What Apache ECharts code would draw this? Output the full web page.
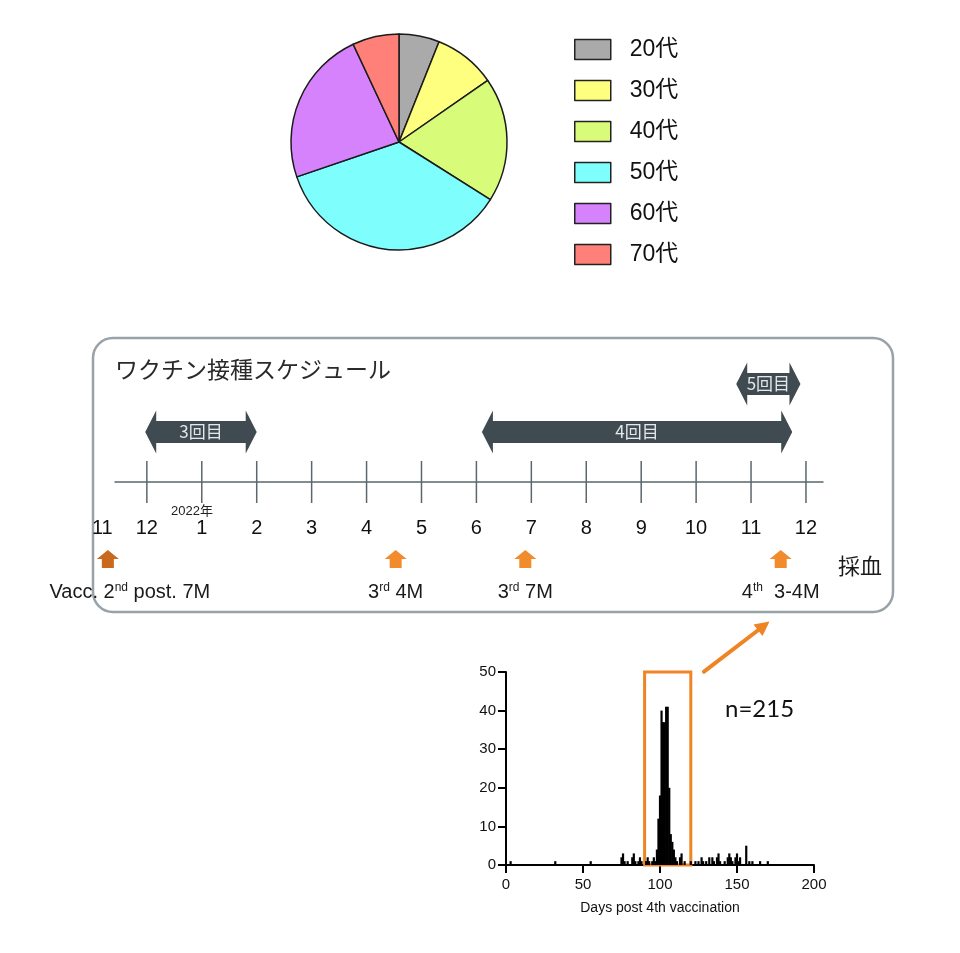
<!DOCTYPE html>
<html>
<head>
<meta charset="utf-8">
<title>ワクチン接種スケジュール</title>
<script src="https://cdn.jsdelivr.net/npm/echarts@6/dist/echarts.min.js"></script>
<style>
  html, body { margin: 0; padding: 0; background: #fff; }
  #main { width: 960px; height: 953px; }
</style>
</head>
<body>
<div id="main"></div>
<script>
// 年代別の人数
var ageGroups = ['20代', '30代', '40代', '50代', '60代', '70代'];
var ageCounts = [13, 20, 40, 77, 50, 15];
var ageColors = ['#aaaaaa', '#ffff7f', '#d8fb79', '#7ffefe', '#d682fd', '#fe8079'];

// タイムライン: 0 = 2021年11月, 13 = 2022年12月
var monthLabels = ['11', '12', '1', '2', '3', '4', '5', '6', '7', '8', '9', '10', '11', '12'];
var monthPos = [0.19, 1, 2, 3, 4, 5, 6, 7, 8, 9, 10, 11, 12, 13];
var doseNames = ['3回目', '4回目', '5回目'];
var doseStart = [0.97, 7.1, 11.73];
var doseEnd = [3.0, 12.75, 12.9];
var doseRow = [0, 0, 1];
var drawPos = [0.29, 5.53, 7.89, 12.54];
var drawLabels = ['Vacc. 2{s|nd} post. 7M', '3{s|rd} 4M', '3{s|rd} 7M', '4{s|th}  3-4M'];

// 4回目接種後の採血日 (日数ごとの人数)
var histDays = [3, 32, 55, 75, 76, 77, 79, 82, 83, 84, 86, 87, 88, 91, 92, 93, 95, 96, 97, 98, 99, 100,
  101, 102, 103, 104, 105, 106, 107, 108, 109, 110, 111, 113, 114, 116, 120, 123, 125, 127, 128, 130,
  132, 134, 135, 137, 138, 139, 142, 144, 145, 146, 147, 149, 150, 151, 152, 156, 158, 160, 165, 170];
var histCounts = [1, 1, 1, 2, 3, 1, 1, 2, 3, 1, 1, 2, 1, 1, 2, 1, 1, 2, 1, 4, 12, 18,
  40, 37, 37, 41, 41, 20, 8, 6, 4, 2, 1, 2, 3, 1, 1, 1, 1, 2, 1, 1,
  2, 2, 1, 2, 3, 1, 1, 2, 3, 2, 1, 2, 3, 1, 2, 5, 1, 1, 1, 1];

var LATIN = '"Liberation Sans", Arial, "Noto Sans CJK JP", sans-serif';
var CJK = '"Noto Sans CJK JP", sans-serif';
var ORANGE = '#ef8424';
var SLATE = '#3f4a51';

var chart = echarts.init(document.getElementById('main'));

// 矢印の段 (軸線からの高さ px)
var rowOffset = [50, 98];

function renderMonths(params, api) {
  var i = params.dataIndex;
  var p = api.coord([api.value(0), 0]);
  var children = [{
    type: 'text', x: p[0], y: p[1] + 46,
    style: { text: monthLabels[i], font: '20px ' + LATIN, fill: '#111', align: 'center', verticalAlign: 'middle' }
  }];
  if (i > 0) {
    children.push({
      type: 'line',
      shape: { x1: p[0], y1: p[1] - 21, x2: p[0], y2: p[1] + 21 },
      style: { stroke: '#5b676d', lineWidth: 1.5 }
    });
  }
  return { type: 'group', children: children };
}

function renderDoses(params, api) {
  var i = params.dataIndex;
  var a = api.coord([api.value(0), 0]);
  var b = api.coord([api.value(1), 0]);
  var x0 = a[0], x1 = b[0], yc = a[1] - rowOffset[doseRow[i]];
  var H = 21.5, B = 11, h = 11;
  return {
    type: 'group',
    children: [{
      type: 'polygon',
      shape: { points: [[x0, yc], [x0 + h, yc - H], [x0 + h, yc - B], [x1 - h, yc - B], [x1 - h, yc - H],
        [x1, yc], [x1 - h, yc + H], [x1 - h, yc + B], [x0 + h, yc + B], [x0 + h, yc + H]] },
      style: { fill: SLATE }
    }, {
      type: 'text', x: (x0 + x1) / 2, y: yc,
      style: { text: doseNames[i], font: '17px ' + CJK, fill: '#e4e8ea', align: 'center', verticalAlign: 'middle' }
    }]
  };
}

var drawColors = ['#c9691e', '#f28b2c', '#f28b2c', '#f28b2c'];
var drawLabelDx = [22, 0, 0, 0];

function renderDraws(params, api) {
  var i = params.dataIndex;
  var p = api.coord([api.value(0), 0]);
  var x = p[0], y0 = p[1] + 68;
  return {
    type: 'group',
    children: [{
      type: 'polygon',
      shape: { points: [[x, y0], [x + 11, y0 + 9], [x + 6, y0 + 9], [x + 6, y0 + 18], [x - 6, y0 + 18], [x - 6, y0 + 9], [x - 11, y0 + 9]] },
      style: { fill: drawColors[i] }
    }, {
      type: 'text', x: x + drawLabelDx[i], y: p[1] + 110,
      style: {
        text: drawLabels[i], font: '20px ' + LATIN, fill: '#1a1a1a', align: 'center', verticalAlign: 'middle',
        rich: { s: { fontSize: 12, fontFamily: LATIN, fill: '#1a1a1a', verticalAlign: 'top', padding: [0, 0, 8, 0] } }
      }
    }]
  };
}

var option = {
  animation: false,
  textStyle: { fontFamily: LATIN },
  legend: {
    data: ageGroups,
    orient: 'vertical',
    left: 574,
    top: 38,
    padding: 0,
    itemWidth: 36,
    itemHeight: 20,
    itemGap: 18,
    icon: 'rect',
    selectedMode: false,
    itemStyle: { borderColor: '#222', borderWidth: 1.5 },
    textStyle: { fontSize: 23, color: '#111', lineHeight: 20, padding: [0, 0, 0, 14], fontFamily: LATIN }
  },
  grid: [
    { left: 115, right: 137, top: 350, bottom: 339 },
    { left: 506, right: 146, top: 672, bottom: 88 }
  ],
  xAxis: [{
    gridIndex: 0, type: 'value', min: 0.42, max: 13.31,
    axisLine: { onZero: true, lineStyle: { color: '#5b676d', width: 1.5 } },
    axisTick: { show: false }, axisLabel: { show: false }, splitLine: { show: false }
  }, {
    gridIndex: 1, type: 'value', min: 0, max: 200, interval: 50,
    name: 'Days post 4th vaccination', nameLocation: 'middle', nameGap: 36,
    nameTextStyle: { fontSize: 14, color: '#111' },
    axisLine: { lineStyle: { color: '#000', width: 2 } },
    axisTick: { length: 8, lineStyle: { color: '#000', width: 2 } },
    axisLabel: { fontSize: 15, color: '#111', margin: 12 },
    splitLine: { show: false }
  }],
  yAxis: [{
    gridIndex: 0, type: 'value', min: -1, max: 1, show: false
  }, {
    gridIndex: 1, type: 'value', min: 0, max: 50, interval: 10,
    axisLine: { show: true, lineStyle: { color: '#000', width: 2 } },
    axisTick: { show: true, length: 8, lineStyle: { color: '#000', width: 2 } },
    axisLabel: { fontSize: 15, color: '#111', margin: 10 },
    splitLine: { show: false }
  }],
  series: [{
    type: 'pie',
    center: [399, 142],
    radius: 108,
    startAngle: 90,
    clockwise: true,
    label: { show: false },
    labelLine: { show: false },
    emphasis: { disabled: true },
    itemStyle: { borderColor: '#1b1b1b', borderWidth: 1.5 },
    data: ageGroups.map(function (n, i) {
      return { name: n, value: ageCounts[i], itemStyle: { color: ageColors[i] } };
    })
  }, {
    type: 'custom', xAxisIndex: 0, yAxisIndex: 0, silent: true,
    renderItem: renderMonths,
    encode: { x: 0, y: 1 },
    data: monthPos.map(function (m) { return [m, 0]; })
  }, {
    type: 'custom', xAxisIndex: 0, yAxisIndex: 0, silent: true,
    renderItem: renderDoses,
    encode: { x: [0, 1], y: 2 },
    data: doseStart.map(function (s, i) { return [s, doseEnd[i], 0]; })
  }, {
    type: 'custom', xAxisIndex: 0, yAxisIndex: 0, silent: true,
    renderItem: renderDraws,
    encode: { x: 0, y: 1 },
    data: drawPos.map(function (m) { return [m, 0]; })
  }, {
    type: 'bar', xAxisIndex: 1, yAxisIndex: 1,
    barWidth: 2.2,
    itemStyle: { color: '#000' },
    silent: true,
    data: histDays.map(function (d, i) { return [d, histCounts[i]]; }),
    markArea: {
      silent: true,
      itemStyle: { color: 'rgba(0,0,0,0)', borderColor: ORANGE, borderWidth: 3 },
      data: [[{ coord: [90, 0] }, { coord: [120, 50] }]]
    }
  }],
  graphic: [{
    type: 'rect',
    shape: { x: 93, y: 338, width: 800, height: 274, r: 20 },
    style: { fill: 'none', stroke: '#98a2a8', lineWidth: 2.5 }
  }, {
    type: 'text', x: 115, y: 369,
    style: { text: 'ワクチン接種スケジュール', font: '23px ' + CJK, fill: '#2a2a2a', verticalAlign: 'middle' }
  }, {
    type: 'text', x: 192, y: 511,
    style: { text: '2022年', font: '13px ' + LATIN, fill: '#222', align: 'center', verticalAlign: 'middle' }
  }, {
    type: 'text', x: 860, y: 566,
    style: { text: '採血', font: '22px ' + CJK, fill: '#1a1a1a', align: 'center', verticalAlign: 'middle' }
  }, {
    type: 'text', x: 725, y: 709,
    style: { text: 'n=215', font: '24px Lato, "Open Sans", sans-serif', fill: '#111', verticalAlign: 'middle' }
  }, {
    type: 'line',
    shape: { x1: 704, y1: 671.7, x2: 759, y2: 629.5 },
    style: { stroke: ORANGE, lineWidth: 4, lineCap: 'round' }
  }, {
    type: 'polygon',
    shape: { points: [[769.5, 621.5], [762.5, 636], [753.5, 624.5]] },
    style: { fill: ORANGE }
  }]
};

chart.setOption(option);
</script>
</body>
</html>
